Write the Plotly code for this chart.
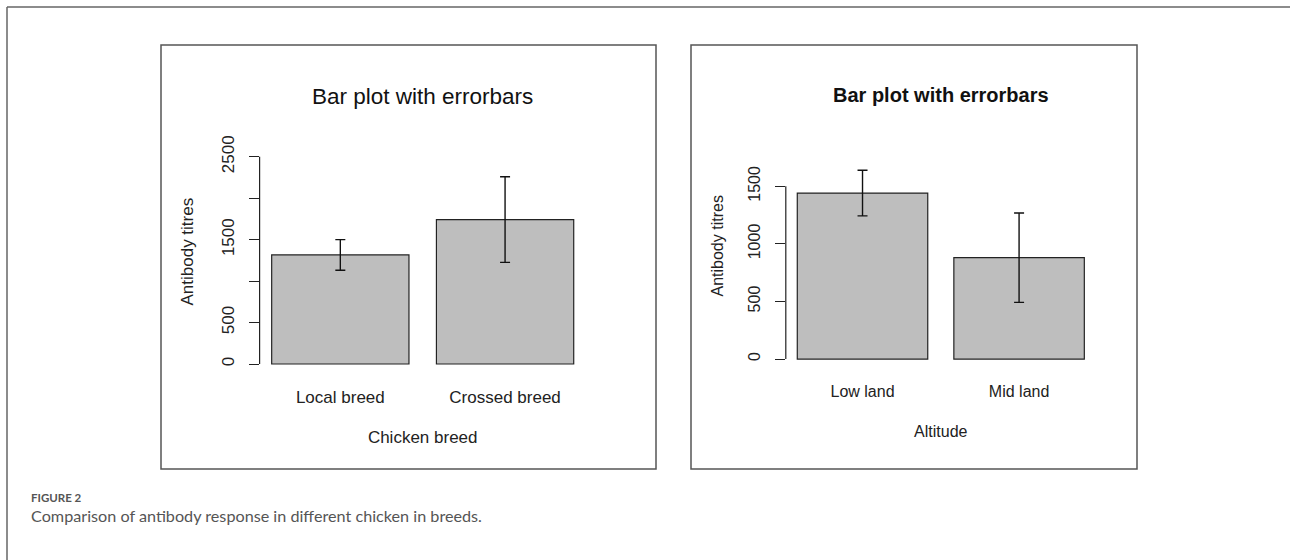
import plotly.graph_objects as go

# ---- data ----
breed_categories = ["Local breed", "Crossed breed"]
breed_means = [1316, 1743]
breed_se = [185, 517]

altitude_categories = ["Low land", "Mid land"]
altitude_means = [1441, 880]
altitude_se = [198, 388]

left_yticks = [0, 500, 1000, 1500, 2000, 2500]
left_yticktext = ["0", "500", "", "1500", "", "2500"]
right_yticks = [0, 500, 1000, 1500]
right_yticktext = ["0", "500", "1000", "1500"]

W, H = 1290, 560
FONT = "Liberation Sans, Arial, sans-serif"
CAPFONT = "Lato, Open Sans, sans-serif"
BAR_FILL = "#BEBEBE"


def px_x(p):
    return p / W


def px_y(p):
    return 1 - p / H


def r_range(means, se):
    ymax = 1.2 * max(m + s for m, s in zip(means, se))
    return [-0.04 * ymax, 1.04 * ymax]


fig = go.Figure()

fig.add_trace(go.Bar(
    x=breed_categories, y=breed_means, xaxis="x", yaxis="y",
    width=1 / 1.2, marker=dict(color=BAR_FILL, line=dict(color="#222", width=1.2)),
    error_y=dict(type="data", array=breed_se, visible=True, color="#111", thickness=1.4, width=5),
    showlegend=False,
))
fig.add_trace(go.Bar(
    x=altitude_categories, y=altitude_means, xaxis="x2", yaxis="y2",
    width=1 / 1.2, marker=dict(color=BAR_FILL, line=dict(color="#222", width=1.2)),
    error_y=dict(type="data", array=altitude_se, visible=True, color="#111", thickness=1.4, width=5),
    showlegend=False,
))

LF = dict(family=FONT, size=17, color="#222")
RF = dict(family=FONT, size=16, color="#222")

xcommon = dict(showline=False, ticks="", showgrid=False, zeroline=False, range=[-0.49, 1.49],
               ticklabelstandoff=12)
ycommon = dict(showline=False, ticks="outside", ticklen=10, tickwidth=1.2, tickcolor="#222",
               showgrid=False, zeroline=False, tickangle=-90, ticklabelstandoff=8)

fig.update_layout(
    width=W, height=H,
    margin=dict(l=0, r=0, t=0, b=0),
    paper_bgcolor="white", plot_bgcolor="white",
    xaxis=dict(xcommon, domain=[px_x(259.6), px_x(585.8)], anchor="y", tickfont=LF,
               title=dict(text="Chicken breed", font=LF, standoff=25)),
    yaxis=dict(ycommon, domain=[px_y(373), px_y(130.3)], anchor="x", range=r_range(breed_means, breed_se),
               tickvals=left_yticks, ticktext=left_yticktext, tickfont=LF,
               title=dict(text="Antibody titres", font=LF, standoff=20)),
    xaxis2=dict(xcommon, domain=[px_x(785.8), px_x(1095.8)], anchor="y2", tickfont=RF,
                title=dict(text="Altitude", font=RF, standoff=26)),
    yaxis2=dict(ycommon, domain=[px_y(368.1), px_y(123.5)], anchor="x2", range=r_range(altitude_means, altitude_se),
                tickvals=right_yticks, ticktext=right_yticktext, tickfont=RF,
                title=dict(text="Antibody titres", font=RF, standoff=18)),
)

# y axis lines spanning first to last tick (R style)
fig.add_shape(type="line", xref="x domain", yref="y", x0=0, x1=0, y0=left_yticks[0], y1=left_yticks[-1],
              line=dict(color="#222", width=1.2))
fig.add_shape(type="line", xref="x2 domain", yref="y2", x0=0, x1=0, y0=right_yticks[0], y1=right_yticks[-1],
              line=dict(color="#222", width=1.2))

# panel boxes
for x0, x1 in [(161, 656), (691, 1137)]:
    fig.add_shape(type="rect", xref="paper", yref="paper", x0=px_x(x0), x1=px_x(x1), y0=px_y(469), y1=px_y(45),
                  line=dict(color="#555", width=1.5))

# outer frame lines (top and left)
fig.add_shape(type="line", xref="paper", yref="paper", x0=px_x(7), x1=1, y0=px_y(7), y1=px_y(7),
              line=dict(color="#666", width=1.5))
fig.add_shape(type="line", xref="paper", yref="paper", x0=px_x(7), x1=px_x(7), y0=0, y1=px_y(7),
              line=dict(color="#666", width=1.5))

# panel titles
fig.add_annotation(text="Bar plot with errorbars", xref="paper", yref="paper", x=px_x(422.5), y=px_y(96.7),
                   showarrow=False, xanchor="center", yanchor="middle",
                   font=dict(family=FONT, size=22.5, color="#111"))
fig.add_annotation(text="<b>Bar plot with errorbars</b>", xref="paper", yref="paper", x=px_x(940.7), y=px_y(95),
                   showarrow=False, xanchor="center", yanchor="middle",
                   font=dict(family=FONT, size=20, color="#111"))

# caption
fig.add_annotation(text="<b>FIGURE 2</b>", xref="paper", yref="paper", x=px_x(29), y=px_y(497),
                   showarrow=False, xanchor="left", yanchor="middle",
                   font=dict(family=CAPFONT, size=11.5, color="#555"))
fig.add_annotation(text="Comparison of antibody response in different chicken in breeds.", xref="paper", yref="paper",
                   x=px_x(29), y=px_y(515), showarrow=False, xanchor="left", yanchor="middle",
                   font=dict(family=CAPFONT, size=16.2, color="#555"))

fig.write_html("out.html", config={"displayModeBar": False},
               post_script="document.body.style.margin='0';")
